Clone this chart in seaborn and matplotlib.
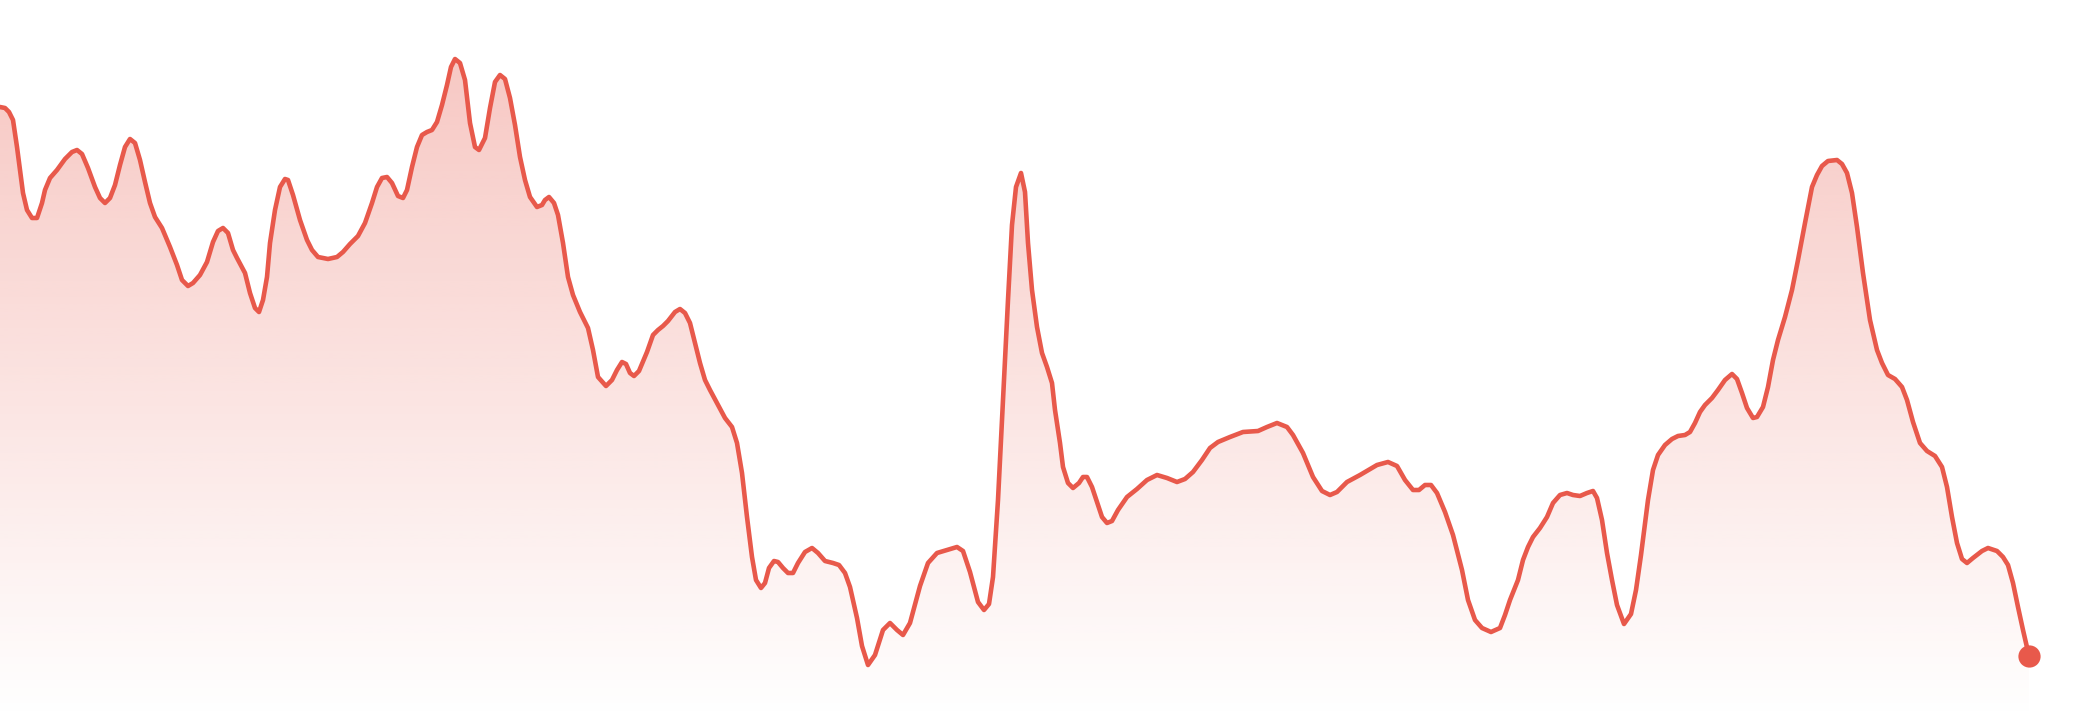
import numpy as np
import pandas as pd
import matplotlib
matplotlib.use("Agg")
import matplotlib.pyplot as plt
import seaborn as sns
from matplotlib.path import Path
from matplotlib.patches import PathPatch

# ---- data (time position, value) ----
t = [0, 5, 9, 13, 17, 20, 23, 27, 32, 37, 42, 45, 50, 57, 65, 72, 77, 82, 88, 95,
     100, 105, 110, 115, 120, 125, 130, 135, 140, 145, 150, 155, 162, 170, 177, 182, 188, 193,
     200, 207, 213, 218, 223, 228, 233, 237, 245, 250, 255, 259, 263, 267, 270, 275, 280, 285,
     288, 293, 300, 307, 312, 318, 328, 337, 343, 350, 358, 365, 372, 377, 382, 387, 392, 398,
     403, 407, 412, 417, 422, 427, 432, 437, 442, 447, 451, 455, 460, 465, 470, 475, 479, 485,
     490, 495, 500, 505, 510, 515, 520, 525, 530, 537, 542, 545, 549, 554, 558, 563, 568, 573,
     580, 588, 593, 598, 606, 612, 617, 622, 626, 630, 634, 639, 647, 653, 658, 663, 668, 675,
     680, 685, 690, 695, 700, 705, 710, 718, 725, 732, 737, 742, 747, 752, 756, 761, 765, 769,
     774, 778, 783, 788, 793, 798, 805, 812, 818, 825, 833, 839, 845, 850, 857, 862, 868, 875,
     883, 890, 897, 903, 910, 920, 928, 937, 947, 957, 963, 970, 978, 984, 989, 993, 998, 1003,
     1008, 1012, 1016, 1021, 1025, 1028, 1032, 1037, 1042, 1047, 1052, 1055, 1060, 1063, 1068,
     1073, 1079, 1083, 1087, 1092, 1097, 1102, 1107, 1112, 1118, 1127, 1137, 1147, 1157, 1167,
     1177, 1185, 1193, 1202, 1210, 1218, 1230, 1243, 1258, 1267, 1277, 1287, 1293, 1303, 1313,
     1322, 1330, 1337, 1347, 1360, 1377, 1388, 1397, 1405, 1413, 1419, 1425, 1431, 1437, 1445,
     1453, 1462, 1468, 1475, 1482, 1491, 1500, 1505, 1510, 1518, 1523, 1528, 1533, 1540, 1547,
     1553, 1560, 1567, 1573, 1580, 1587, 1593, 1597, 1602, 1607, 1612, 1617, 1624, 1631, 1636,
     1641, 1648, 1653, 1658, 1665, 1672, 1678, 1685, 1690, 1695, 1700, 1705, 1712, 1718, 1725,
     1732, 1737, 1742, 1747, 1753, 1757, 1763, 1768, 1773, 1778, 1785, 1792, 1798, 1805, 1812,
     1817, 1822, 1828, 1837, 1842, 1847, 1852, 1857, 1863, 1870, 1877, 1882, 1888, 1895, 1902,
     1907, 1913, 1920, 1927, 1935, 1942, 1947, 1952, 1957, 1962, 1967, 1973, 1982, 1988, 1997,
     2003, 2008, 2013, 2018, 2023, 2029]

values = [613, 612, 608, 600, 573, 550, 527, 510, 502, 502, 517, 530, 542, 550, 561, 568, 570, 566, 552, 533,
          522, 517, 522, 535, 555, 573, 581, 577, 560, 538, 517, 503, 492, 473, 455, 440, 434, 437,
          445, 458, 478, 489, 492, 487, 470, 462, 447, 427, 412, 408, 420, 443, 477, 510, 533, 541,
          540, 525, 500, 480, 470, 463, 461, 463, 468, 476, 484, 497, 517, 533, 542, 543, 537, 524,
          522, 530, 553, 573, 585, 588, 590, 598, 615, 635, 653, 661, 657, 640, 597, 573, 570, 582,
          612, 638, 645, 641, 622, 595, 563, 540, 523, 513, 515, 520, 523, 517, 505, 477, 443, 425,
          408, 392, 370, 343, 334, 340, 350, 358, 356, 347, 344, 349, 368, 385, 390, 394, 399, 408,
          411, 407, 397, 377, 357, 340, 330, 315, 302, 293, 277, 247, 203, 163, 140, 132, 137, 152,
          159, 158, 152, 147, 147, 157, 168, 172, 167, 159, 157, 155, 147, 133, 102, 74, 55, 65,
          90, 97, 90, 85, 97, 134, 157, 167, 170, 173, 169, 148, 118, 110, 116, 143, 220, 320,
          420, 495, 533, 547, 528, 477, 430, 393, 367, 353, 337, 310, 277, 253, 237,
          232, 237, 243, 243, 233, 218, 203, 197, 199, 210, 223, 231, 240, 245, 242,
          238, 241, 248, 260, 272, 278, 283, 288, 289, 293, 297, 293, 285, 267, 243,
          229, 225, 228, 238, 245, 255, 258, 254, 240, 230, 230, 235, 235, 227, 208,
          185, 150, 120, 100, 92, 88, 92, 105, 120, 140, 160, 173, 183, 192, 203,
          217, 225, 227, 225, 224, 227, 229, 222, 200, 167, 140, 115, 96, 106, 130,
          165, 220, 250, 265, 275, 281, 284, 285, 288, 297, 308, 315, 322, 330, 340,
          346, 341, 327, 312, 302, 303, 313, 333, 360, 380, 403, 430, 460, 497, 533,
          545, 554, 559, 560, 556, 547, 527, 493, 447, 400, 370, 357, 345, 341, 333,
          320, 298, 277, 269, 264, 253, 233, 203, 177, 161, 157, 162, 169, 172, 169,
          163, 155, 137, 113, 90, 64]

df = pd.DataFrame({"t": t, "value": values})

LINE = "#e8594b"

sns.set_theme(style="white")
fig = plt.figure(figsize=(20.8, 7.2), dpi=100)
ax = fig.add_axes([0, 0, 1, 1])
ax.set_xlim(0, 2080)
ax.set_ylim(0, 720)
ax.axis("off")

# gradient fill under the line
tx = df["t"].to_numpy(dtype=float)
vy = df["value"].to_numpy(dtype=float)
verts = np.column_stack([np.r_[tx, tx[-1], tx[0]], np.r_[vy, 0, 0]])
poly = PathPatch(Path(verts, closed=False), facecolor="none", edgecolor="none")
ax.add_patch(poly)
h = 400
alpha = np.clip(np.linspace(0.0, 0.33, h) * (720 / 660), 0, 0.36)[:, None]
rgb = np.array(matplotlib.colors.to_rgb(LINE))
grad = np.zeros((h, 2, 4))
grad[..., :3] = rgb
grad[..., 3] = alpha
im = ax.imshow(grad, extent=[0, 2080, 0, 720], origin="lower", aspect="auto",
               interpolation="bilinear", zorder=1)
im.set_clip_path(poly)

sns.lineplot(data=df, x="t", y="value", ax=ax, color=LINE, linewidth=3.3,
             sort=False, zorder=3, solid_joinstyle="round", solid_capstyle="round")
ax.plot(df["t"].iloc[-1], df["value"].iloc[-1], "o", color=LINE, markersize=16,
        markeredgewidth=0, zorder=4)
ax.set_xlim(0, 2080)
ax.set_ylim(0, 720)
ax.axis("off")

fig.savefig("out.png", dpi=100)
